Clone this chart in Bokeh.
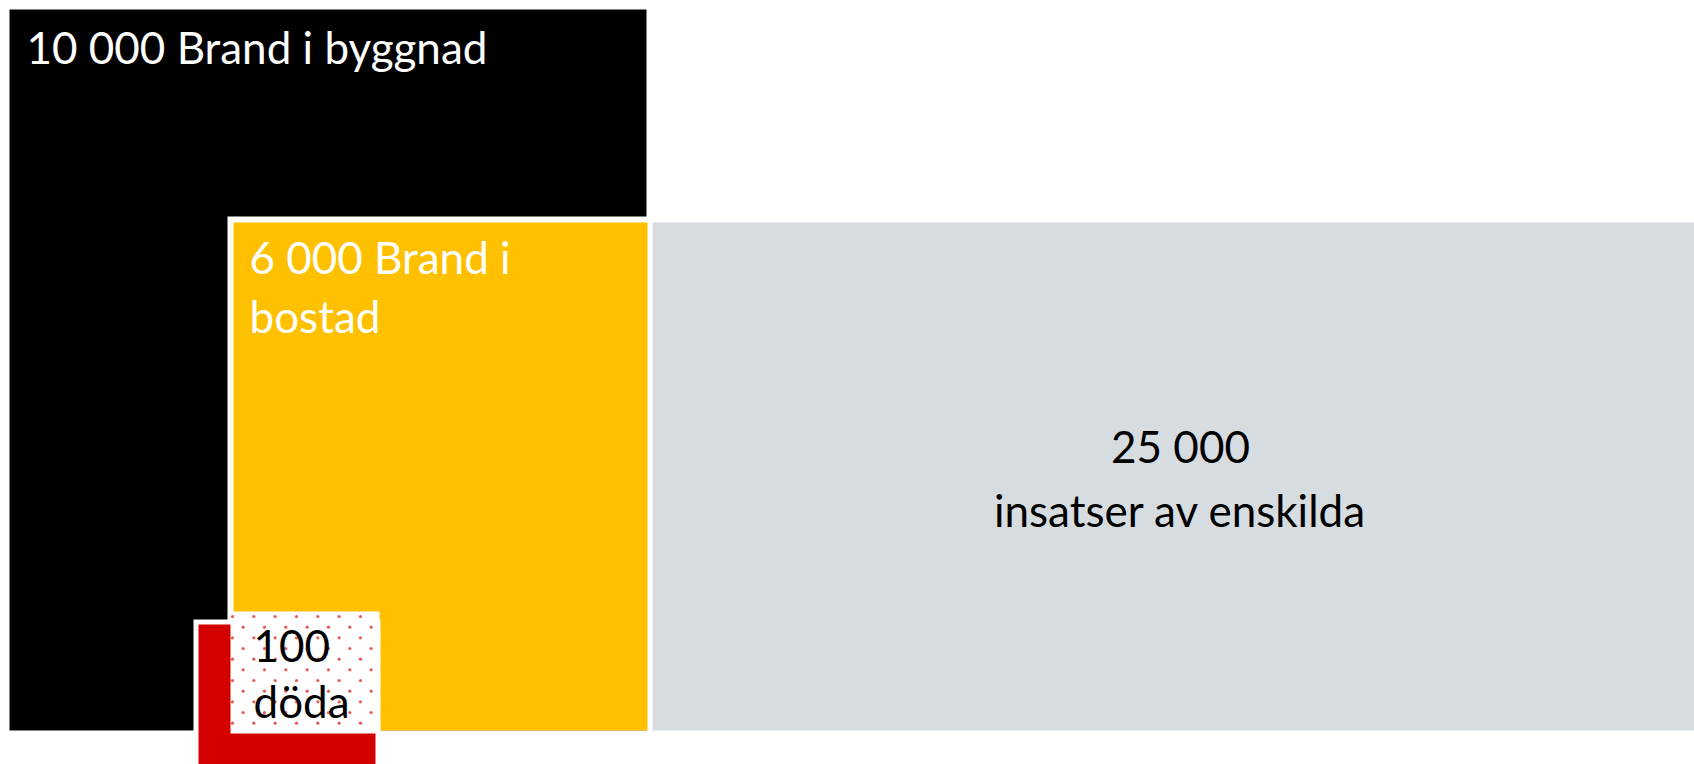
import numpy as np
from bokeh.plotting import figure
from bokeh.models import Range1d, ColumnDataSource
from bokeh.core.properties import value
from bokeh.embed import file_html
from bokeh.resources import INLINE

# ---- data ----
values = [10000, 6000, 25000, 100]
labels = ["Brand i byggnad", "Brand i bostad", "insatser av enskilda", "döda"]

def fmt(v):
    return f"{v:,}".replace(",", " ")

# ---- layout (figure pixel space, y downwards) ----
W, H = 1694, 764
FONT = value("Lato")
FS = "44px"

p = figure(width=W, height=H, output_backend="svg", toolbar_location=None,
           x_range=Range1d(0, W), y_range=Range1d(H, 0),
           x_axis_location=None, y_axis_location=None,
           min_border=0, outline_line_color=None, background_fill_color="white",
           border_fill_color="white")
p.grid.visible = False

# boxes: black (10 000), gray (25 000), yellow (6 000), red (100)
p.quad(left=[9], right=[646], top=[9], bottom=[730], fill_color="#000000", line_color=None)
p.quad(left=[652], right=[1694], top=[222], bottom=[730], fill_color="#D6DCDF", line_color=None)
p.quad(left=[227], right=[652], top=[216], bottom=[730], fill_color="white", line_color=None)
p.quad(left=[233], right=[647], top=[222], bottom=[730], fill_color="#FFC000", line_color=None)
p.quad(left=[193], right=[380], top=[619], bottom=[770], fill_color="white", line_color=None)
p.quad(left=[198], right=[375], top=[624], bottom=[770], fill_color="#D40000", line_color=None)
box = dict(left=230, right=379, top=611, bottom=733)
p.quad(left=[box["left"]], right=[box["right"]], top=[box["top"]], bottom=[box["bottom"]],
       fill_color="white", line_color=None)

# dotted texture inside the small box (staggered lattice)
step = 21.33
dx, dy = [], []
for i, yy in enumerate(np.arange(box["top"] + 5, box["bottom"] - 1, step / 2)):
    x0 = box["left"] + 2 + (i % 2) * step / 2
    for xx in np.arange(x0, box["right"] - 1, step):
        dx.append(xx)
        dy.append(yy)
p.scatter(dx, dy, marker="circle", size=3.2, fill_color="#E63B3B", fill_alpha=0.85,
          line_color=None)

# texts
white_src = ColumnDataSource(dict(
    x=[26, 249, 249],
    y=[46, 256, 315],
    t=[f"{fmt(values[0])} {labels[0]}", f"{fmt(values[1])} Brand i", "bostad"],
))
p.text(x="x", y="y", text="t", source=white_src, text_color="white", text_font=FONT,
       text_font_size=FS, text_baseline="alphabetic", text_align="left")

center_src = ColumnDataSource(dict(
    x=[1180, 1180], y=[445, 509], t=[fmt(values[2]), labels[2]],
))
p.text(x="x", y="y", text="t", source=center_src, text_color="black", text_font=FONT,
       text_font_size=FS, text_baseline="alphabetic", text_align="center")

small_src = ColumnDataSource(dict(
    x=[253, 253], y=[645, 700], t=[fmt(values[3]), labels[3]],
))
p.text(x="x", y="y", text="t", source=small_src, text_color="black", text_font=FONT,
       text_font_size=FS, text_baseline="alphabetic", text_align="left")

open("out.html", "w").write(file_html(p, INLINE))
